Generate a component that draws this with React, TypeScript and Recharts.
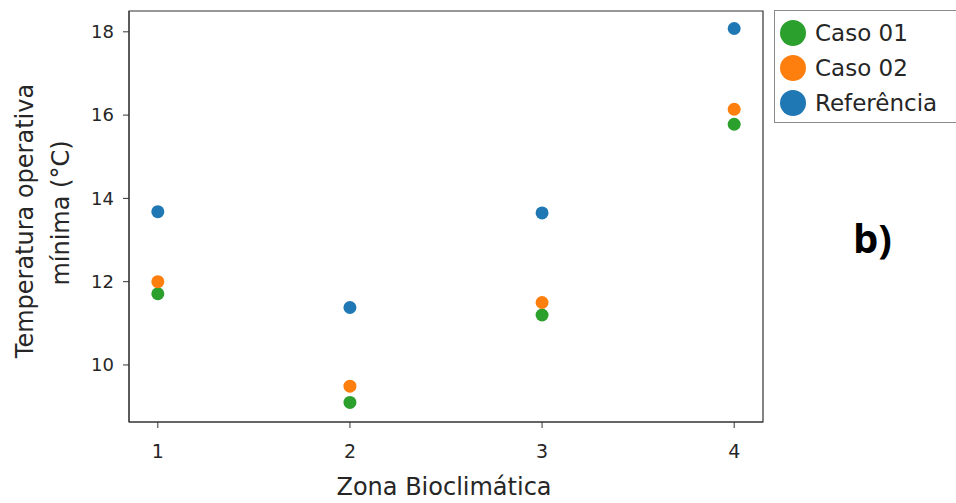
import React from 'react';
import { ScatterChart, Scatter, XAxis, YAxis, ReferenceArea } from 'recharts';

const zones = [1, 2, 3, 4];
const caso01 = [11.71, 9.1, 11.2, 15.78];
const caso02 = [12.0, 9.49, 11.5, 16.14];
const referencia = [13.68, 11.38, 13.65, 18.08];
const yTicks = [10, 12, 14, 16, 18];
const xDomain = [0.85, 4.15];
const yDomain = [8.63, 18.5];

const series = [
  { name: 'Caso 01', values: caso01, color: '#2ca02c' },
  { name: 'Caso 02', values: caso02, color: '#ff7f0e' },
  { name: 'Referência', values: referencia, color: '#1f77b4' },
];

const FONT = '"DejaVu Sans", sans-serif';
const TEXT = '#262626';

const Dot = (props: any) => {
  const { cx, cy, fill } = props;
  return <circle cx={cx} cy={cy} r={6.5} fill={fill} />;
};

const LegendBox = () => (
  <div
    style={{
      position: 'absolute',
      left: 774,
      top: 10,
      height: 113,
      border: '1px solid #8a8a8a',
      borderRight: 'none',
      background: '#fff',
      padding: '4px 0 0 5px',
      fontFamily: FONT,
      fontSize: 23,
      color: TEXT,
      width: 182,
      boxSizing: 'border-box',
    }}
  >
    {series.map((s) => (
      <div key={s.name} style={{ display: 'flex', alignItems: 'center', height: 35, whiteSpace: 'nowrap' }}>
        <span
          style={{
            display: 'inline-block',
            flex: '0 0 26px',
            width: 26,
            height: 26,
            borderRadius: 13,
            background: s.color,
            marginRight: 9,
          }}
        />
        <span>{s.name}</span>
      </div>
    ))}
  </div>
);

const YLabel = () => (
  <g fontFamily={FONT} fontSize={24} fill={TEXT}>
    <text x={25} y={221} transform="rotate(-90 25 221)" textAnchor="middle" dominantBaseline="central">
      Temperatura operativa
    </text>
    <text x={61} y={213} transform="rotate(-90 61 213)" textAnchor="middle" dominantBaseline="central">
      mínima (°C)
    </text>
  </g>
);

const XLabel = (props: any) => {
  const vb = props.viewBox || {};
  const cx = (vb.x ?? 129) + (vb.width ?? 634) / 2;
  return (
    <text x={cx - 2} y={495} textAnchor="middle" fontFamily={FONT} fontSize={24} fill={TEXT}>
      Zona Bioclimática
    </text>
  );
};

export default function App() {
  return (
    <div style={{ position: 'absolute', left: 0, top: 0, width: 956, height: 503, background: '#fff', overflow: 'hidden' }}>
      <ScatterChart width={956} height={503} margin={{ top: 11, right: 193, bottom: 0, left: 0 }}>
        <XAxis
          type="number"
          dataKey="x"
          domain={xDomain}
          ticks={zones}
          allowDataOverflow
          stroke="#333"
          tickLine={{ stroke: '#333' }}
          tickSize={6}
          tickMargin={4}
          height={81}
          tick={{ fontSize: 19, fill: TEXT, fontFamily: FONT, dy: 13 }}
          label={{ content: <XLabel /> }}
        />
        <YAxis
          type="number"
          dataKey="y"
          domain={yDomain}
          ticks={yTicks}
          allowDataOverflow
          width={129}
          stroke="#333"
          tickLine={{ stroke: '#333' }}
          tickSize={6}
          tickMargin={9}
          tick={{ fontSize: 18, fill: TEXT, fontFamily: FONT }}
          label={{ content: <YLabel /> }}
        />
        <ReferenceArea
          x1={xDomain[0]}
          x2={xDomain[1]}
          y1={yDomain[0]}
          y2={yDomain[1]}
          fill="none"
          stroke="#333"
          strokeWidth={1.2}
          ifOverflow="visible"
        />
        {series.map((s) => (
          <Scatter
            key={s.name}
            name={s.name}
            data={zones.map((z, i) => ({ x: z, y: s.values[i] }))}
            fill={s.color}
            shape={<Dot />}
            isAnimationActive={false}
          />
        ))}
        <text x={853} y={253} fontFamily='"Open Sans", sans-serif' fontWeight="bold" fontSize={40} fill="#000">
          b)
        </text>
      </ScatterChart>
      <LegendBox />
    </div>
  );
}
